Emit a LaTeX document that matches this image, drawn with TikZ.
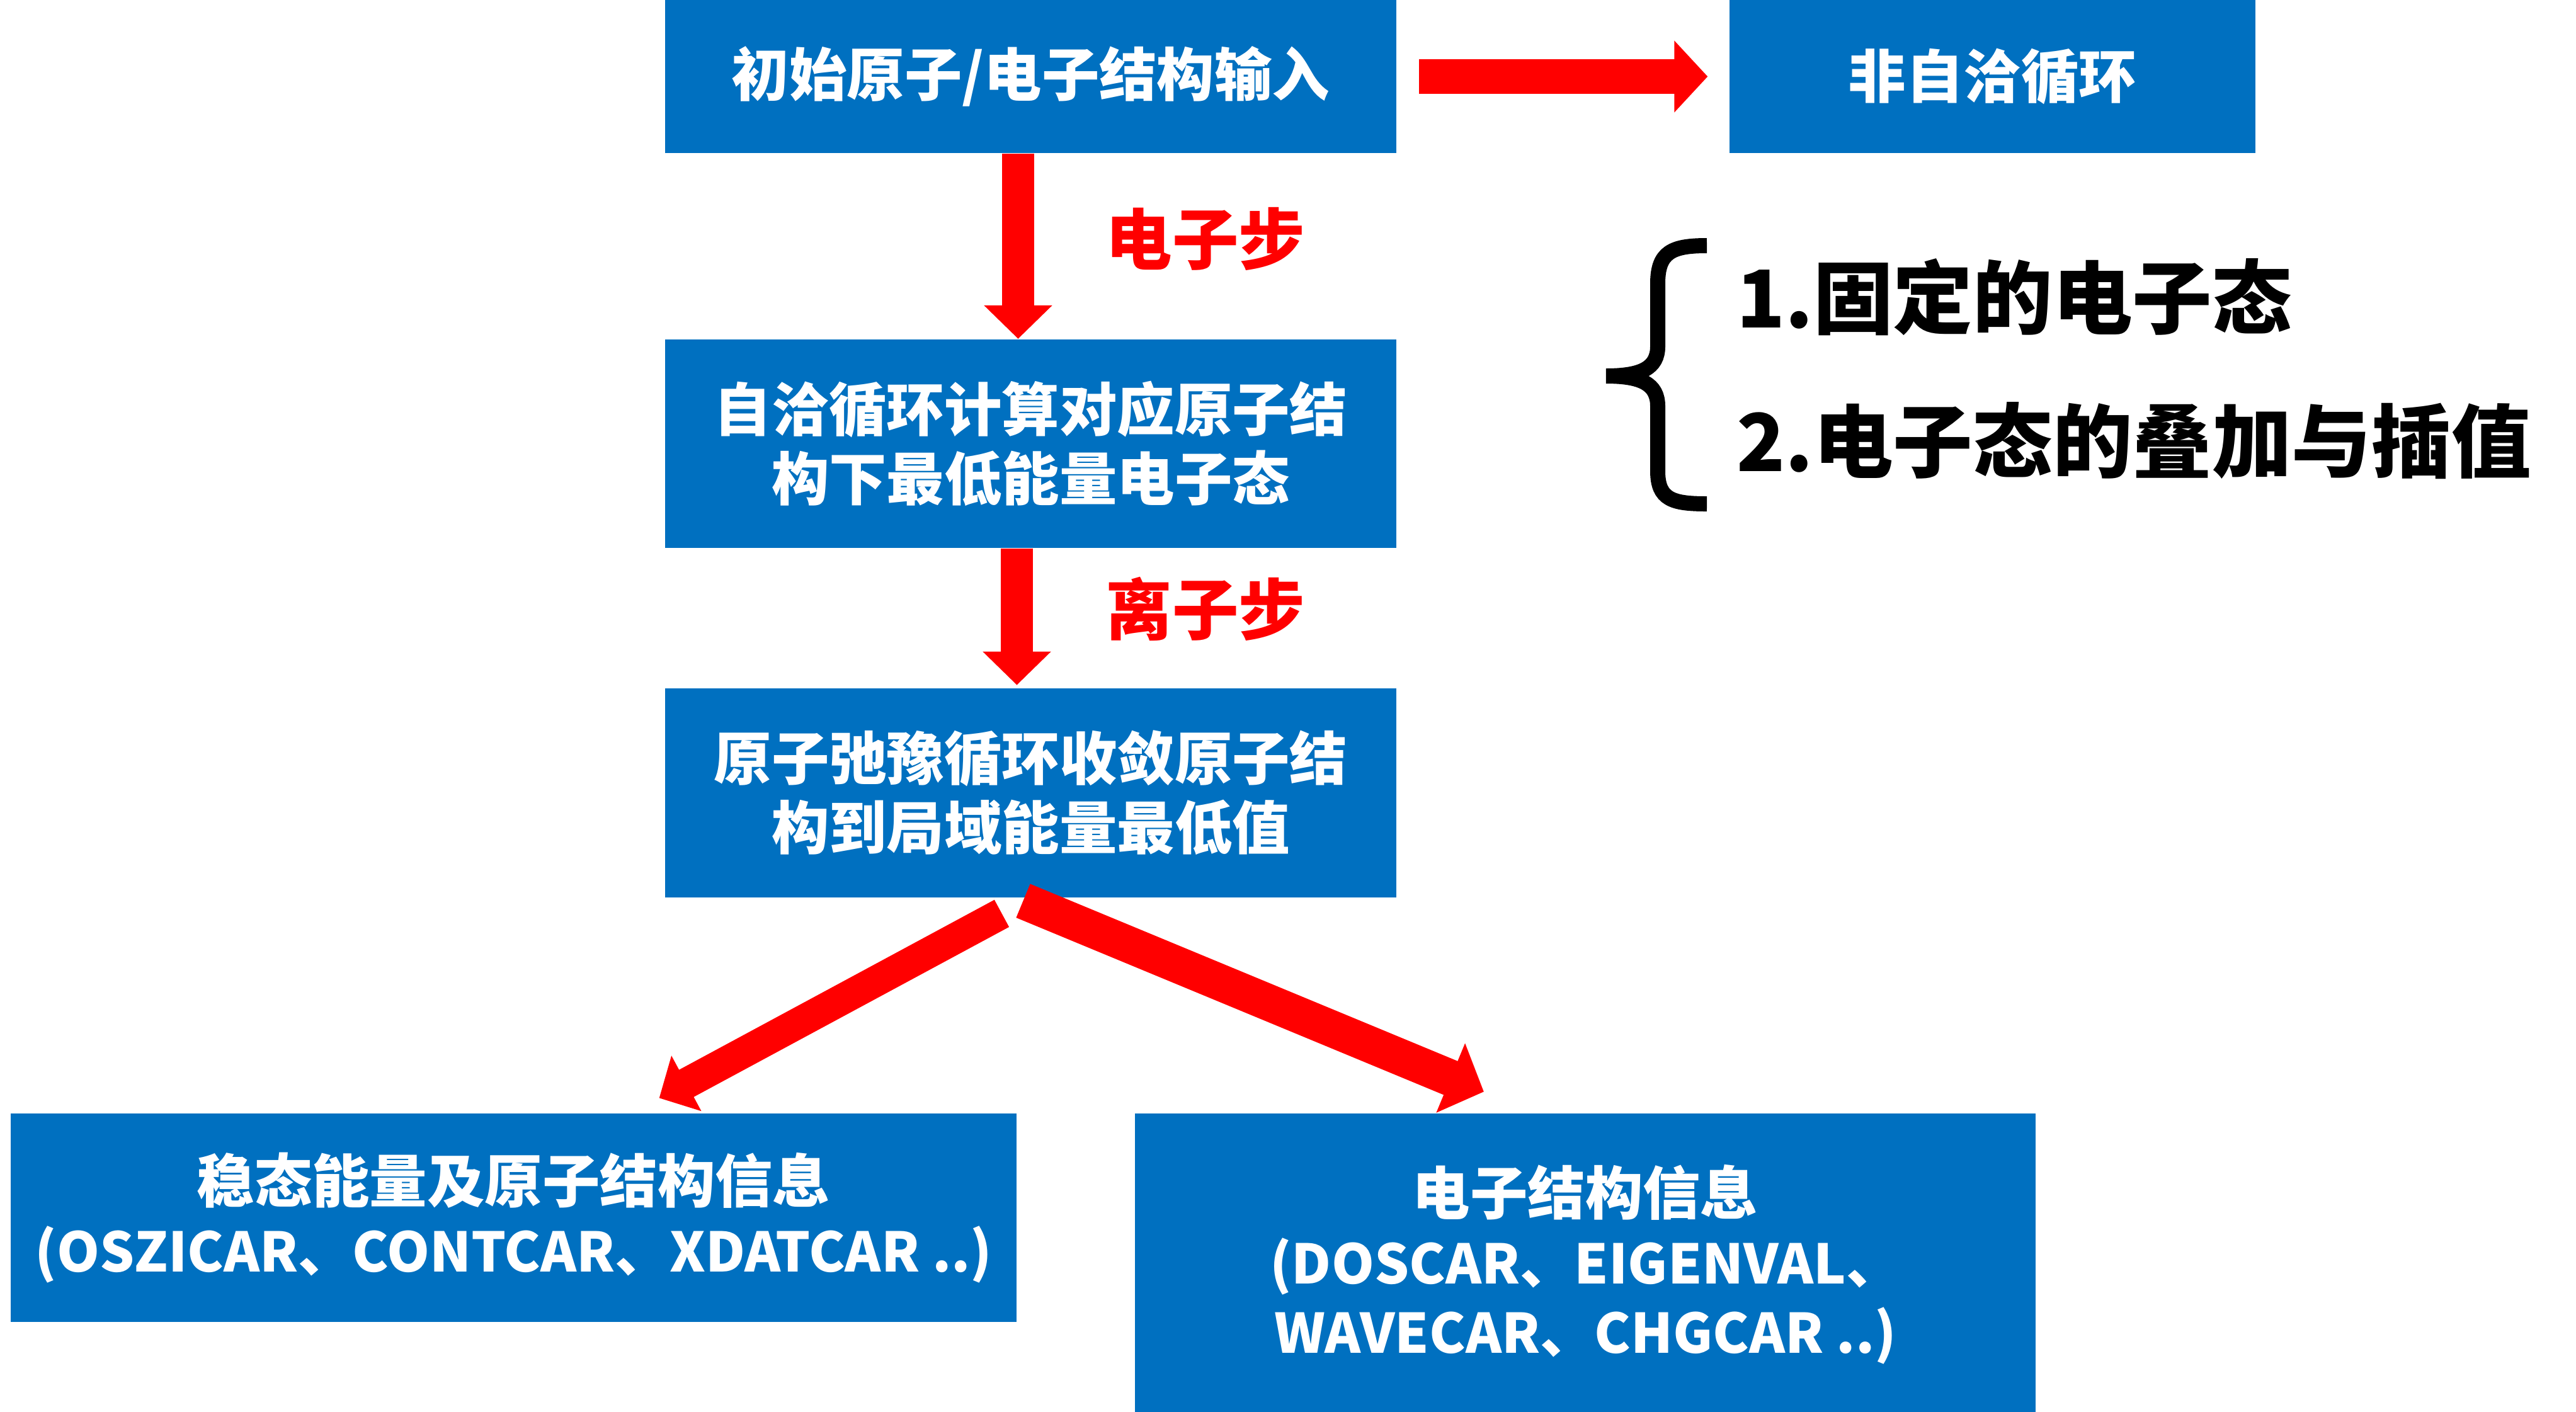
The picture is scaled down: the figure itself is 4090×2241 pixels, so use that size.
\documentclass[tikz,border=0pt]{standalone}
\usepackage{fontspec}
\setmainfont{Noto Sans CJK SC}
\usepackage{xcolor}
\usetikzlibrary{arrows.meta,positioning}
\definecolor{boxblue}{RGB}{0,112,192}
\definecolor{stepred}{RGB}{255,0,0}
\newcommand\filenames{\fontsize{24.6}{31.3}\selectfont}

\begin{document}
\begin{tikzpicture}[
  x=0.01cm, y=-0.01cm,
  node distance = 2.94cm and 5.27cm,
  stage/.style  = {fill=boxblue, text=white, inner sep=0pt,
                   minimum width=11.61cm, minimum height=3.31cm,
                   font=\fontsize{26}{31.3}\selectfont\bfseries,
                   align=center},
  steplabel/.style = {text=stepred, inner sep=0pt,
                   font=\fontsize{30}{36}\selectfont\bfseries},
  note/.style   = {inner sep=0pt, anchor=west,
                   font=\fontsize{36}{43}\selectfont\bfseries},
  bigarrow/.style = {draw=stepred, line width=5mm,
                   -{Triangle[length=5.3mm, width=10.5mm]}}
]
  \useasboundingbox (0,0) rectangle (4090,2241);

  % Main column: input, SCF, relaxation
  \node[stage, minimum height=2.43cm] (init) at (1636.5,121.5) {初始原子/电子结构输入};
  \node[stage, below=of init]         (scf)   {自洽循环计算对应原子结\\构下最低能量电子态};
  \node[stage, below=2.22cm of scf]   (relax) {原子弛豫循环收敛原子结\\构到局域能量最低值};
  \node[stage, minimum width=8.34cm, minimum height=2.43cm, right=of init] (nscf) {非自洽循环};

  % Outputs
  \node[stage, minimum width=15.96cm, below=3.42cm of relax.south, xshift=-8.205cm]
    (energy) {稳态能量及原子结构信息\\{\filenames (OSZICAR、CONTCAR、XDATCAR ..)}};
  \node[stage, minimum width=14.29cm, minimum height=4.78cm, below=3.42cm of relax.south, xshift=8.8cm]
    (elec) {电子结构信息\\{\filenames (DOSCAR、EIGENVAL、}\\{\filenames WAVECAR、CHGCAR ..)}};

  % Step arrows
  \draw[bigarrow, line width=5.4mm, -{Triangle[length=5.3mm, width=11.1mm]}]
    ([xshift=3.5mm]init.east) -- ([xshift=-3.4mm]nscf.west);
  \draw[bigarrow] ([xshift=-2mm]init.south) -- node[steplabel, right=1.14cm, yshift=1.1mm] {电子步} ([xshift=-2mm]scf.north);
  \draw[bigarrow] ([xshift=-2.2mm]scf.south) -- node[steplabel, right=1.16cm, yshift=1.2mm] {离子步} ([xshift=-2.2mm, yshift=0.5mm]relax.north);
  \draw[bigarrow, line width=4.9mm, -{Triangle[length=4.9mm, width=9.7mm]}]
    ([xshift=-4.6mm, yshift=-2.5mm]relax.south) -- ([xshift=2.31cm, yshift=2.4mm]energy.north);
  \draw[bigarrow, line width=5.8mm, -{Triangle[length=5.7mm, width=11.6mm]}]
    ([xshift=-1.2mm, yshift=-0.5mm]relax.south) -- ([xshift=-1.61cm, yshift=3.4mm]elec.north);

  % Brace and notes
  \draw[line width=2.4mm] (2710,390) .. controls (2655,390) and (2632,400) .. (2632,450)
    -- (2632,550) .. controls (2632,585) and (2605,597) .. (2550,597)
    .. controls (2605,597) and (2632,609) .. (2632,645)
    -- (2632,748) .. controls (2632,793) and (2655,800) .. (2710,800);
  \node[note] (fixed) at (2757,472) {1.固定的电子态};
  \node[note] (mixed) at (2757,700) {2.电子态的叠加与插值};
\end{tikzpicture}
\end{document}
